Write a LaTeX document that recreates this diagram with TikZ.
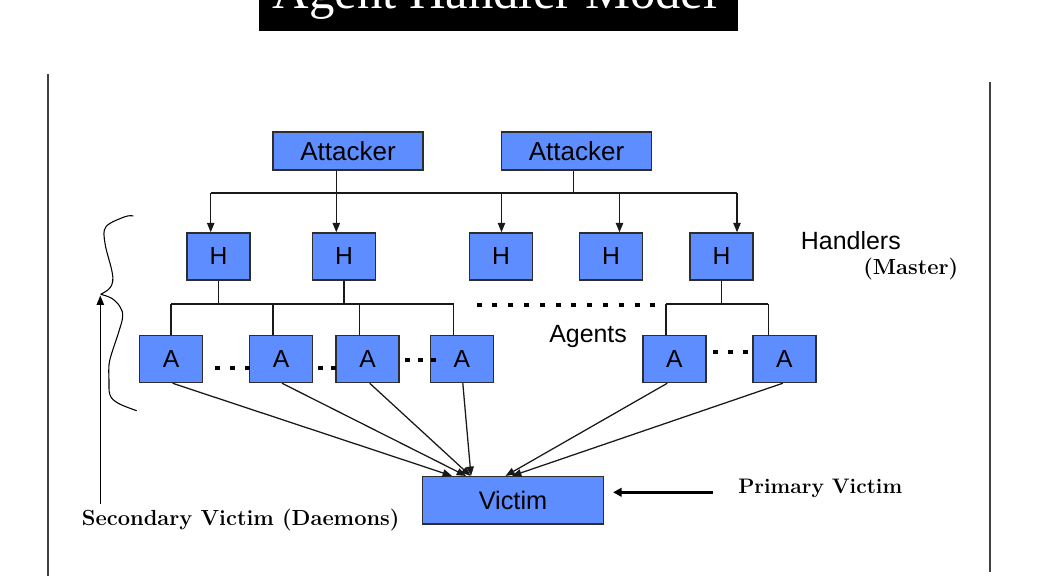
\documentclass[tikz,border=0pt]{standalone}
\usepackage{fontspec}
\newfontfamily\arialf{Liberation Sans}
\newfontfamily\timesf{Liberation Serif}
\usetikzlibrary{arrows.meta,calc}
\definecolor{boxblue}{RGB}{94,141,255}
\definecolor{edgec}{RGB}{45,45,45}
\begin{document}
\begin{tikzpicture}[x=0.75pt,y=-0.75pt,
 box/.style={draw=edgec,line width=1.1pt,fill=boxblue,inner sep=0pt,text=black,font=\arialf\fontsize{18.5}{20}\selectfont},
 hbox/.style={box,minimum width=47.25pt,minimum height=35.25pt},
 atbox/.style={box,minimum width=112.5pt,minimum height=28.5pt,font=\arialf\fontsize{19.5}{22}\selectfont},
 vbox/.style={box,minimum width=135.5pt,minimum height=35.5pt,font=\arialf\fontsize{19}{22}\selectfont},
 conn/.style={draw=black!90,line width=0.95pt},
 arr/.style={conn,-{Triangle[length=7pt,width=5.5pt]}},
 lbl/.style={inner sep=0pt,font=\bfseries\fontsize{15.75}{18}\selectfont},
 lblw/.style={inner sep=0pt,font=\bfseries\fontsize{16.4}{18}\selectfont},
 slbl/.style={inner sep=0pt,font=\arialf\fontsize{18.7}{22}\selectfont},
 side/.style={draw=black!75,line width=1.5pt},
]
\useasboundingbox (0,0) rectangle (1038,576);

% title
\fill[black] (259.3,-5) rectangle (738.3,30.7);
\node[anchor=base,text=white,inner sep=0pt,font=\timesf\fontsize{38}{40}\selectfont] (title) at (495,8) {Agent Handler Model};

% side rules
\draw[side] (47.7,74) -- (47.7,576);
\draw[side] (990,82.3) -- (990,572);

% nodes
\node[atbox] (att1) at (348,151) {Attacker};
\node[atbox] (att2) at (576.5,151) {Attacker};

\node[hbox] (h1) at (218.5,256.5) {H};
\node[hbox] (h2) at (344,256.5) {H};
\node[hbox] (h3) at (501,256.5) {H};
\node[hbox] (h4) at (611,256.5) {H};
\node[hbox] (h5) at (721.5,256.5) {H};

\node[hbox] (a1) at (171,359) {A};
\node[hbox] (a2) at (281,359) {A};
\node[hbox] (a3) at (367.7,359) {A};
\node[hbox] (a4) at (461.8,359) {A};
\node[hbox] (a5) at (674.3,359) {A};
\node[hbox] (a6) at (784.3,359) {A};

\node[vbox] (victim) at (513,500.3) {Victim};

% labels
\node[slbl,anchor=base west] (handlers) at (800.7,249) {Handlers};
\node[lblw,anchor=base west] (master) at (863,274) {(Master)};
\node[slbl,anchor=base west] (agents) at (549,342.7) {Agents};
\node[lbl,anchor=base west] (pv) at (738,493) {Primary Victim};
\node[lblw,anchor=base west] (sv) at (81.7,525) {Secondary Victim (Daemons)};

% attacker -> handler bus
\coordinate (x1) at (210.7,193);
\coordinate (x2) at (336.3,193);
\coordinate (x3) at (501.5,193);
\coordinate (x4) at (619.5,193);
\coordinate (x5) at (737,193);
\coordinate (x6) at (573.5,193);
\draw[conn] (x1) -- (x5);
\draw[conn] (att1.south -| x2) -- (x2);
\draw[conn] (att2.south -| x6) -- (x6);
\draw[arr] (x1) -- (x1 |- h1.north);
\draw[arr] (x2) -- (x2 |- h2.north);
\draw[arr] (x3) -- (x3 |- h3.north);
\draw[arr] (x4) -- (x4 |- h4.north);
\draw[arr] (x5) -- (x5 |- h5.north);

% handler -> agent buses
\coordinate (b1) at (171,304);
\coordinate (b2) at (273,304);
\coordinate (b3) at (359.3,304);
\coordinate (b4) at (453.7,304);
\coordinate (b5) at (666,304);
\coordinate (b6) at (768.3,304);
\draw[conn] (b1) -- (b4);
\draw[conn] (b5) -- (b6);
\draw[conn] (h1.south) -- (h1.south |- b1);
\draw[conn] (h2.south) -- (h2.south |- b1);
\draw[conn] (h5.south) -- (h5.south |- b5);
\draw[conn] (b1) -- (b1 |- a1.north);
\draw[conn] (b2) -- (b2 |- a2.north);
\draw[conn] (b3) -- (b3 |- a3.north);
\draw[conn] (b4) -- (b4 |- a4.north);
\draw[conn] (b5) -- (b5 |- a5.north);
\draw[conn] (b6) -- (b6 |- a6.north);

% agents -> victim
\draw[arr] ($(a1.south)+(1.5,0)$) -- ($(victim.north)+(-61,0)$);
\draw[arr] ($(a2.south)+(1,0)$) -- ($(victim.north)+(-47,0)$);
\draw[arr] ($(a3.south)+(2,0)$) -- ($(victim.north)+(-42.5,0)$);
\draw[arr] ($(a4.south)+(1,0)$) -- ($(victim.north)+(-42,0)$);
\draw[arr] ($(a5.south)+(-7,0)$) -- ($(victim.north)+(-7.5,0)$);
\draw[arr] ($(a6.south)+(-1.5,0)$) -- ($(victim.north)+(-1,0)$);

% primary victim arrow
\coordinate (pvtail) at (713,492.3);
\draw[black,line width=2pt,-{Triangle[length=6.5pt,width=6.5pt]},shorten >=6.75pt] (pvtail) -- (victim.east |- pvtail);

% brace and secondary arrow
\draw[black,line width=0.8pt] plot[smooth,tension=0.6] coordinates {
 (133.3,216) (125,216.7) (106,226.7) (105,243.3) (111.7,270) (112.7,281.7) (109,289) (100.7,294.3)};
\draw[black,line width=0.8pt] plot[smooth,tension=0.6] coordinates {
 (100.7,294.3) (111.7,298.3) (120,306.7) (122.7,316.7) (118.3,333.3) (111.7,353.3) (109,365) (109,380) (110,395) (118.3,403.3) (136.7,410.7)};
\coordinate (tip) at (100.3,295.5);
\draw[arr,draw=black] ($(sv.north -| tip)+(0,-4)$) -- (tip);

% dots
\foreach \x in {0,...,11} \fill[black] ({479+15.8*\x-2.5},303) rectangle +(5,4);
\foreach \x in {217,232,247,320,333} \fill[black] (\x-2.5,365.7) rectangle +(5,4);
\foreach \x in {407,420,433} \fill[black] (\x-2.5,358) rectangle +(5,4);
\foreach \x in {715,730,745} \fill[black] (\x-2.5,349.7) rectangle +(5,4);
\end{tikzpicture}
\end{document}
